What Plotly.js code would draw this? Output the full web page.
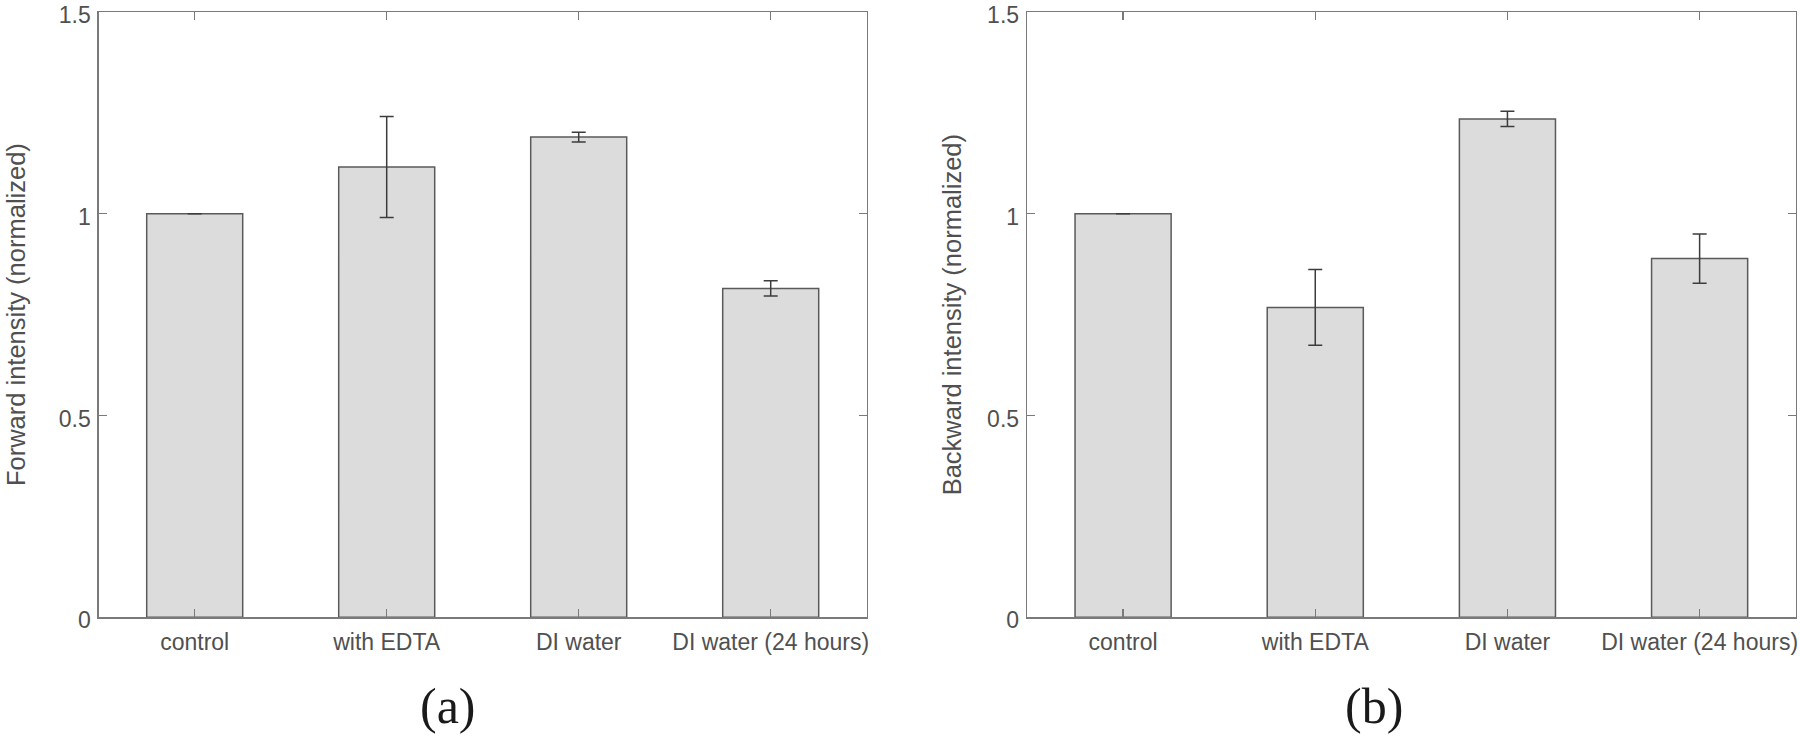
<!DOCTYPE html>
<html>
<head>
<meta charset="utf-8">
<script src="https://cdn.plot.ly/plotly-3.0.1.min.js"></script>
<style>html,body{margin:0;padding:0;background:#fff;}#chart{width:1800px;height:737px;}</style>
</head>
<body>
<div id="chart"></div>
<script>
// Data
const categories = ["control", "with EDTA", "DI water", "DI water (24 hours)"];
const forwardValues = [1.0, 1.116, 1.190, 0.815];
const forwardErrors = [null, 0.125, 0.012, 0.019];
const backwardValues = [1.0, 0.768, 1.235, 0.889];
const backwardErrors = [null, 0.094, 0.019, 0.061];
const yTickVals = [0, 0.5, 1, 1.5];
const yTickText = ["0", "0.5", "1", "1.5"];
const panelLabels = ["(a)", "(b)"];
const yTitles = ["Forward intensity (normalized)", "Backward intensity (normalized)"];

const W = 1800, H = 737;
const textColor = "#505050";
const lineColor = "#7a7a7a";

function barTrace(vals, errs, xa, ya) {
  return {
    type: "bar",
    x: categories,
    y: vals,
    xaxis: xa, yaxis: ya,
    marker: {color: "#dcdcdc", line: {color: "#5a5a5a", width: 1.5}},
    error_y: {type: "data", array: errs, visible: true, color: "#3c3c3c", thickness: 1.5, width: 7},
    showlegend: false,
    hoverinfo: "skip"
  };
}

const yDomain = [1 - 617.3 / H, 1 - 12 / H];

function xAxis(domain) {
  return {
    domain: domain,
    type: "category",
    categoryorder: "array",
    categoryarray: categories,
    range: [-0.5, 3.5],
    showline: true, linecolor: lineColor, linewidth: 1.3,
    mirror: "ticks",
    ticks: "inside", ticklen: 8, tickcolor: lineColor, tickwidth: 1.3,
    tickfont: {family: "Liberation Sans, Arial, sans-serif", size: 23, color: textColor},
    ticklabelstandoff: 4,
    showgrid: false, zeroline: false, automargin: false, fixedrange: true
  };
}
function yAxis(title, anchor, standoff) {
  return {
    domain: yDomain,
    anchor: anchor,
    range: [0, 1.5000001],
    tickvals: yTickVals,
    ticktext: yTickText,
    showline: true, linecolor: lineColor, linewidth: 1.3,
    mirror: "ticks",
    ticks: "inside", ticklen: 8, tickcolor: lineColor, tickwidth: 1.3,
    tickfont: {family: "Liberation Sans, Arial, sans-serif", size: 23, color: textColor},
    ticklabelstandoff: 2,
    ticklabelshift: 3,
    ticklabeloverflow: "allow",
    title: {text: title, font: {family: "Liberation Sans, Arial, sans-serif", size: 25.5, color: textColor}, standoff: standoff},
    showgrid: false, zeroline: false, automargin: false, fixedrange: true
  };
}

const data = [
  barTrace(forwardValues, forwardErrors, "x", "y"),
  barTrace(backwardValues, backwardErrors, "x2", "y2")
];

const layout = {
  width: W, height: H,
  margin: {l: 0, r: 0, t: 0, b: 0},
  paper_bgcolor: "#ffffff",
  plot_bgcolor: "#ffffff",
  bargap: 0.5,
  xaxis: Object.assign(xAxis([98.7 / W, 866.7 / W]), {anchor: "y"}),
  yaxis: yAxis(yTitles[0], "x", 26),
  xaxis2: Object.assign(xAxis([1027 / W, 1795.7 / W]), {anchor: "y2"}),
  yaxis2: yAxis(yTitles[1], "x2", 18),
  annotations: [
    {text: panelLabels[0], xref: "paper", yref: "paper", x: 448 / W, y: 1 - 706 / H, xanchor: "center", yanchor: "middle", showarrow: false,
     font: {family: "Liberation Serif, Times New Roman, serif", size: 50, color: "#1a1a1a"}},
    {text: panelLabels[1], xref: "paper", yref: "paper", x: 1374 / W, y: 1 - 706 / H, xanchor: "center", yanchor: "middle", showarrow: false,
     font: {family: "Liberation Serif, Times New Roman, serif", size: 50, color: "#1a1a1a"}}
  ]
};

Plotly.newPlot("chart", data, layout, {staticPlot: true, displayModeBar: false});
</script>
</body>
</html>
